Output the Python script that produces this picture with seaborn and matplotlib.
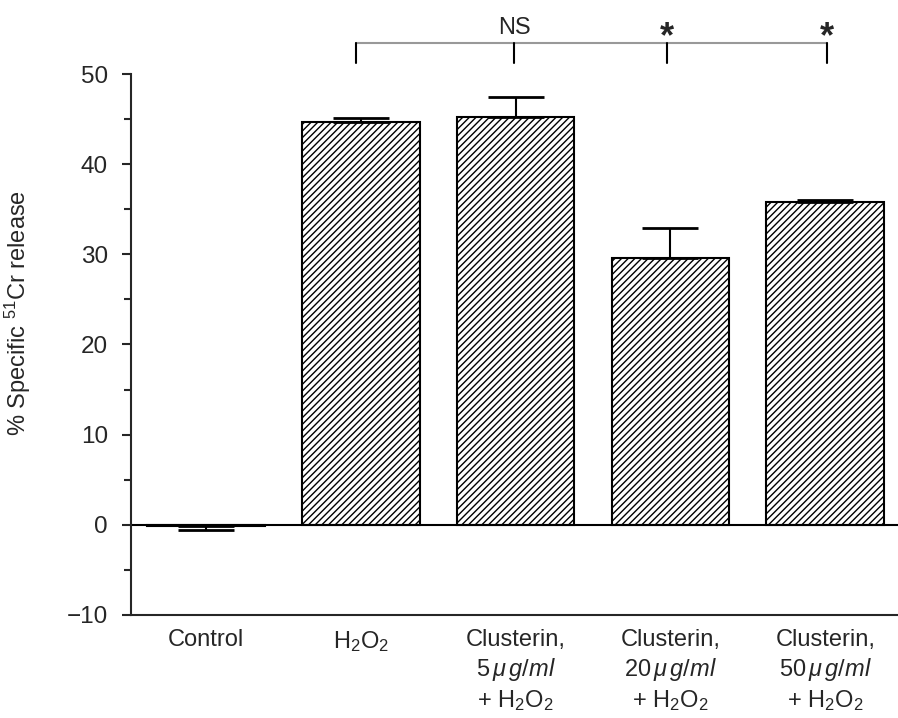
import numpy as np
import matplotlib
matplotlib.use('Agg')
import matplotlib.pyplot as plt
import seaborn as sns

# values
categories = ['Control', 'H2O2', 'Clu5', 'Clu20', 'Clu50']
tick_labels = [
    'Control',
    'H$_2$O$_2$',
    'Clusterin,\n$\\mathit{5\\,μ\\,g/ml}$\n+ H$_2$O$_2$',
    'Clusterin,\n$\\mathit{20\\,μ\\,g/ml}$\n+ H$_2$O$_2$',
    'Clusterin,\n$\\mathit{50\\,μ\\,g/ml}$\n+ H$_2$O$_2$',
]
means = [-0.1, 44.7, 45.2, 29.6, 35.8]
err_low = [0.45, 0.0, 0.0, 0.0, 0.0]
err_high = [0.0, 0.4, 2.2, 3.3, 0.2]
sig_labels = ['', 'NS', '*', '*']  # compared against H2O2

sns.set_style('ticks')
plt.rcParams['font.family'] = ['Liberation Sans', 'DejaVu Sans']
plt.rcParams['mathtext.fontset'] = 'custom'
plt.rcParams['mathtext.rm'] = 'Liberation Sans'
plt.rcParams['mathtext.it'] = 'Liberation Sans:italic'
plt.rcParams['hatch.linewidth'] = 1.0

fig = plt.figure(figsize=(8.98, 7.18), dpi=100)
ax = fig.add_axes([0.1459, 0.1435, 0.8541, 0.7534])

sns.barplot(x=categories, y=means, color='white', edgecolor='black',
            linewidth=1.5, width=0.76, ax=ax)
for p in ax.patches:
    p.set_hatch('/////')
    p.set_facecolor('white')

ax.errorbar(np.arange(len(means)), means, yerr=[err_low, err_high], fmt='none',
            ecolor='black', elinewidth=1.5, capsize=20, capthick=2)

ax.axhline(0, color='black', lw=1.5)

ax.set_xlim(-0.485, 4.47)
ax.set_ylim(-10, 50)
ax.set_yticks(np.arange(-10, 51, 10))
ax.set_yticks(np.arange(-5, 50, 10), minor=True)
ax.set_xticks(range(len(categories)))
ax.set_xticklabels(tick_labels, fontsize=17, linespacing=1.25)
ax.tick_params(axis='x', length=0, pad=10)
ax.tick_params(axis='y', which='major', length=6.5, width=1.5, labelsize=17.5, pad=10)
ax.tick_params(axis='y', which='minor', length=5, width=1.5)
ax.set_yticklabels(['\u221210', '0', '10', '20', '30', '40', '50'])

ax.set_ylabel('% Specific $^{51}$Cr release', fontsize=17)
ax.yaxis.set_label_coords(-0.128, 0.558)

for s in ['top', 'right']:
    ax.spines[s].set_visible(False)
ax.spines['left'].set_linewidth(1.5)
ax.spines['bottom'].set_linewidth(1.5)

# significance bracket
ax.plot([0.97, 4.01], [53.4, 53.4], color='#999999', lw=1.5, clip_on=False)
for xi in [0.97, 1.99, 2.98, 4.01]:
    ax.plot([xi, xi], [53.4, 51.2], color='black', lw=1.5, clip_on=False)
for xi, lab in zip([0.97, 1.99, 2.98, 4.01], sig_labels):
    if lab == 'NS':
        ax.text(xi, 53.9, lab, ha='center', va='bottom', fontsize=17, clip_on=False)
    elif lab:
        ax.text(xi, 52.1, lab, ha='center', va='bottom', fontsize=26,
                fontweight='bold', clip_on=False)

fig.savefig('out.png', dpi=100)
